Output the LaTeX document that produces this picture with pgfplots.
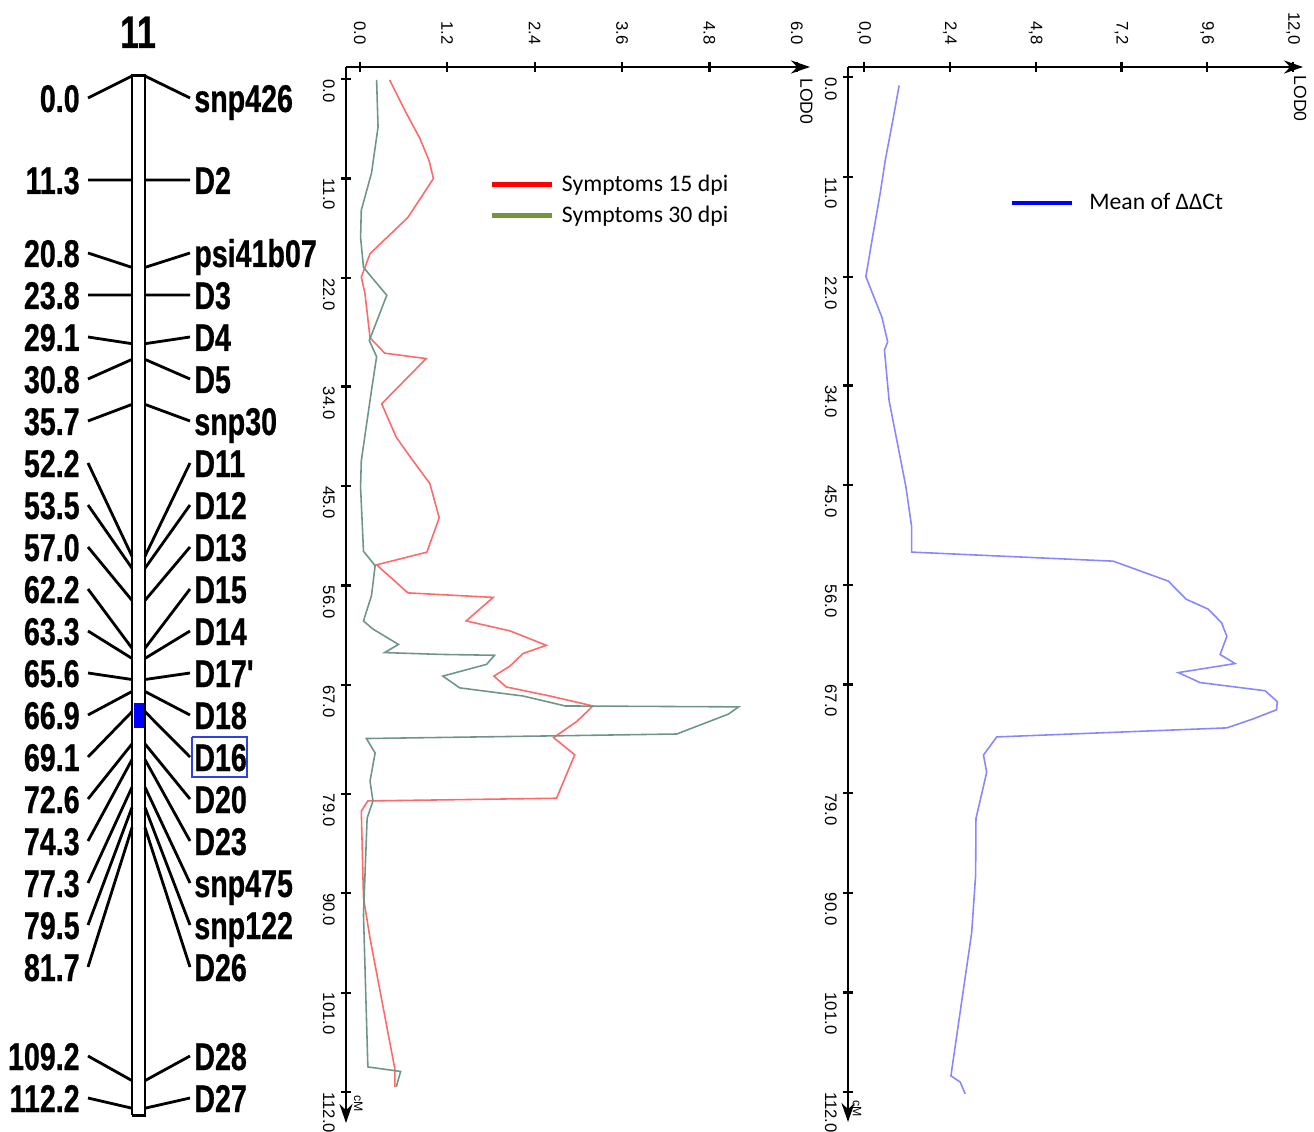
\documentclass[border=0pt]{standalone}
\usepackage{fontspec}
\setmainfont{Liberation Sans}
\newfontfamily\calfont{Carlito}
\newfontfamily\mapfont[FakeStretch=0.74,FakeBold=0.6]{Liberation Sans Bold}
\usepackage{pgfplots}
\pgfplotsset{compat=1.18}
\usetikzlibrary{arrows.meta}

\definecolor{redline}{RGB}{255,105,105}
\definecolor{greenline}{RGB}{110,150,135}
\definecolor{blueline}{RGB}{135,135,255}
\definecolor{legolive}{RGB}{119,147,60}
\definecolor{boxblue}{RGB}{45,65,230}

\pgfplotsset{
  lodaxis/.style={
    scale only axis, anchor=south west, clip=false,
    axis x line*=top, axis y line*=left,
    axis line style={line width=1.5pt},
    x axis line style={-{Stealth[length=0.38cm,width=0.26cm]}},
    y axis line style={{Stealth[length=0.38cm,width=0.26cm]}-},
    tick align=center, major tick length=0.2cm,
    tick style={line width=1.3pt, black},
    ytick={0,-11,-22,-34,-45,-56,-67,-79,-90,-101,-112},
    yticklabels={0.0,11.0,22.0,34.0,45.0,56.0,67.0,79.0,90.0,101.0,112.0},
    xticklabel style={rotate=-90, anchor=east, font=\fontsize{9.5}{11}\selectfont},
    yticklabel style={rotate=-90, anchor=north west, xshift=-0.12cm, font=\fontsize{9.5}{11}\selectfont},
    xticklabel shift=0.22cm,
    legend style={draw=none, fill=none, font=\calfont\fontsize{13.5}{15}\selectfont,
      anchor=north west, row sep=0.1cm},
    legend cell align=left,
    legend image code/.code={\draw[#1] (0cm,0cm) -- (1.2cm,0cm);},
  }
}

\begin{document}
\begin{tikzpicture}
\useasboundingbox (0,0) rectangle (26.28,22.62);

% linkage group 11 (pixel-like canvas)
\begin{axis}[at={(0cm,0cm)}, anchor=south west, scale only axis,
  width=26.28cm, height=22.62cm, xmin=0, xmax=1314, ymin=-1131, ymax=0,
  hide axis, clip=false]
\addplot[draw=none, fill=blue] coordinates {(134,-703) (144,-703) (144,-728) (134,-728)} -- cycle;
\addplot[black, line width=1.7pt] coordinates {(132,-1115) (132,-76) (145,-76) (145,-1115) (132,-1115)};
\addplot[black, line width=1.6pt, unbounded coords=jump] coordinates {
 (88,-98) (132,-76) (nan,nan)
 (88,-180) (132,-180) (nan,nan)
 (88,-253) (132,-267.4) (nan,nan)
 (88,-295) (132,-295) (nan,nan)
 (88,-337) (132,-343.7) (nan,nan)
 (88,-379) (132,-359.4) (nan,nan)
 (88,-421) (132,-404.4) (nan,nan)
 (88,-463) (132,-556.2) (nan,nan)
 (88,-505) (132,-568.2) (nan,nan)
 (88,-547) (132,-600.4) (nan,nan)
 (88,-589) (132,-648.2) (nan,nan)
 (88,-631) (132,-658.4) (nan,nan)
 (88,-673) (132,-679.5) (nan,nan)
 (88,-715) (132,-691.5) (nan,nan)
 (88,-757) (132,-711.7) (nan,nan)
 (88,-799) (132,-743.9) (nan,nan)
 (88,-841) (132,-759.6) (nan,nan)
 (88,-883) (132,-787.2) (nan,nan)
 (88,-925) (132,-807.4) (nan,nan)
 (88,-967) (132,-827.6) (nan,nan)
 (88,-1056) (132,-1080.6) (nan,nan)
 (88,-1098) (132,-1108.2) (nan,nan)
 (145,-76) (190,-98) (nan,nan)
 (145,-180) (190,-180) (nan,nan)
 (145,-267.4) (190,-253) (nan,nan)
 (145,-295) (190,-295) (nan,nan)
 (145,-343.7) (190,-337) (nan,nan)
 (145,-359.4) (190,-379) (nan,nan)
 (145,-404.4) (190,-421) (nan,nan)
 (145,-556.2) (190,-463) (nan,nan)
 (145,-568.2) (190,-505) (nan,nan)
 (145,-600.4) (190,-547) (nan,nan)
 (145,-648.2) (190,-589) (nan,nan)
 (145,-658.4) (190,-631) (nan,nan)
 (145,-679.5) (190,-673) (nan,nan)
 (145,-691.5) (190,-715) (nan,nan)
 (145,-711.7) (190,-757) (nan,nan)
 (145,-743.9) (190,-799) (nan,nan)
 (145,-759.6) (190,-841) (nan,nan)
 (145,-787.2) (190,-883) (nan,nan)
 (145,-807.4) (190,-925) (nan,nan)
 (145,-827.6) (190,-967) (nan,nan)
 (145,-1080.6) (190,-1056) (nan,nan)
 (145,-1108.2) (190,-1098)
};
\addplot[boxblue, line width=1.4pt] coordinates {(192,-737) (247,-737) (247,-777) (192,-777) (192,-737)};

\node[font=\mapfont\fontsize{26}{28}\selectfont, anchor=base, inner sep=0] at (axis cs:138,-48) {11};
\begin{scope}[every node/.style={font=\mapfont\fontsize{22}{24}\selectfont, inner sep=0}]
\node[anchor=base east] at (axis cs:80,-112) {0.0};
\node[anchor=base east] at (axis cs:80,-194) {11.3};
\node[anchor=base east] at (axis cs:80,-267) {20.8};
\node[anchor=base east] at (axis cs:80,-309) {23.8};
\node[anchor=base east] at (axis cs:80,-351) {29.1};
\node[anchor=base east] at (axis cs:80,-393) {30.8};
\node[anchor=base east] at (axis cs:80,-435) {35.7};
\node[anchor=base east] at (axis cs:80,-477) {52.2};
\node[anchor=base east] at (axis cs:80,-519) {53.5};
\node[anchor=base east] at (axis cs:80,-561) {57.0};
\node[anchor=base east] at (axis cs:80,-603) {62.2};
\node[anchor=base east] at (axis cs:80,-645) {63.3};
\node[anchor=base east] at (axis cs:80,-687) {65.6};
\node[anchor=base east] at (axis cs:80,-729) {66.9};
\node[anchor=base east] at (axis cs:80,-771) {69.1};
\node[anchor=base east] at (axis cs:80,-813) {72.6};
\node[anchor=base east] at (axis cs:80,-855) {74.3};
\node[anchor=base east] at (axis cs:80,-897) {77.3};
\node[anchor=base east] at (axis cs:80,-939) {79.5};
\node[anchor=base east] at (axis cs:80,-981) {81.7};
\node[anchor=base east] at (axis cs:80,-1070) {109.2};
\node[anchor=base east] at (axis cs:80,-1112) {112.2};
\node[anchor=base west] at (axis cs:194,-112) {snp426};
\node[anchor=base west] at (axis cs:194,-194) {D2};
\node[anchor=base west] at (axis cs:194,-267) {psi41b07};
\node[anchor=base west] at (axis cs:194,-309) {D3};
\node[anchor=base west] at (axis cs:194,-351) {D4};
\node[anchor=base west] at (axis cs:194,-393) {D5};
\node[anchor=base west] at (axis cs:194,-435) {snp30};
\node[anchor=base west] at (axis cs:194,-477) {D11};
\node[anchor=base west] at (axis cs:194,-519) {D12};
\node[anchor=base west] at (axis cs:194,-561) {D13};
\node[anchor=base west] at (axis cs:194,-603) {D15};
\node[anchor=base west] at (axis cs:194,-645) {D14};
\node[anchor=base west] at (axis cs:194,-687) {D17\symbol{39}};
\node[anchor=base west] at (axis cs:194,-729) {D18};
\node[anchor=base west] at (axis cs:194,-771) {D16};
\node[anchor=base west] at (axis cs:194,-813) {D20};
\node[anchor=base west] at (axis cs:194,-855) {D23};
\node[anchor=base west] at (axis cs:194,-897) {snp475};
\node[anchor=base west] at (axis cs:194,-939) {snp122};
\node[anchor=base west] at (axis cs:194,-981) {D26};
\node[anchor=base west] at (axis cs:194,-1070) {D28};
\node[anchor=base west] at (axis cs:194,-1112) {D27};
\end{scope}
\end{axis}

% symptoms LOD profiles
\begin{axis}[lodaxis, at={(6.92cm,0.16cm)}, width=9.28cm, height=21.12cm,
  xmin=-0.19, xmax=6.18, ymin=-115.4, ymax=1.33,
  xtick={0,1.2,2.4,3.6,4.8,6.0}, xticklabels={0.0,1.2,2.4,3.6,4.8,6.0},
  legend style={at={(0.298,0.905)}, /tikz/every odd column/.append style={column sep=0.08cm}}]
\addplot[redline, line width=0.9pt, forget plot] coordinates {
 (0.41,-0.1) (0.62,-3.5) (0.82,-6.5) (0.95,-9.0) (1.01,-11.0) (0.66,-15.3) (0.14,-19.3) (0.02,-21.9)
 (0.07,-23.7) (0.14,-28.6) (0.34,-30.3) (0.91,-30.9) (0.30,-35.9) (0.50,-39.6) (0.73,-42.2)
 (0.96,-44.7) (1.09,-48.5) (0.92,-52.3) (0.23,-53.7) (0.66,-56.8) (1.83,-57.3) (1.46,-59.9)
 (2.06,-61.0) (2.56,-62.6) (2.24,-63.5) (2.06,-64.9) (1.84,-66.0) (2.01,-67.2) (2.61,-68.2)
 (3.20,-69.3) (2.98,-71.0) (2.66,-72.8) (2.95,-74.7) (2.70,-79.5) (0.11,-79.8) (0.02,-80.9)
 (0.05,-90.5) (0.14,-95.0) (0.48,-109.4) (0.48,-111.4)};
\addplot[greenline, line width=0.9pt, forget plot] coordinates {
 (0.23,-0.1) (0.25,-5.3) (0.16,-10.4) (0.02,-14.5) (0.01,-17.5) (0.05,-20.8) (0.14,-21.7)
 (0.37,-23.9) (0.13,-28.9) (0.23,-30.7) (0.16,-34.4) (0.02,-42.2) (0.01,-45.1) (0.05,-52.2)
 (0.21,-53.8) (0.16,-57.1) (0.05,-59.9) (0.18,-60.8) (0.53,-62.5) (0.34,-63.4) (1.10,-63.6)
 (1.85,-63.7) (1.74,-64.7) (1.14,-66.0) (1.37,-67.3) (2.24,-68.2) (2.82,-69.3) (5.20,-69.4)
 (5.06,-70.2) (4.35,-72.4) (2.70,-72.6) (0.09,-72.9) (0.21,-74.5) (0.14,-77.6) (0.18,-79.8)
 (0.10,-81.7) (0.05,-92.4) (0.11,-109.2) (0.56,-109.7) (0.50,-111.4)};
\addlegendimage{red, line width=2.6pt}
\addlegendentry{Symptoms 15 dpi}
\addlegendimage{legolive, line width=2.6pt}
\addlegendentry{Symptoms 30 dpi}
\node[rotate=-90, anchor=west, inner sep=0, font=\fontsize{10}{11}\selectfont] at (axis cs:6.13,0.1) {LOD0};
\node[rotate=-90, anchor=west, inner sep=0, font=\fontsize{7}{8}\selectfont] at (axis cs:-0.02,-112.3) {cM};
\end{axis}

% mean ddCt LOD profile
\begin{axis}[lodaxis, at={(16.96cm,0.18cm)}, width=9.1cm, height=21.1cm,
  xmin=-0.45, xmax=12.28, ymin=-115.3, ymax=1.14,
  xtick={0,2.4,4.8,7.2,9.6,12.0}, xticklabels={{0,0},{2,4},{4,8},{7,2},{9,6},{12,0}},
  legend style={at={(0.342,0.887)}, /tikz/every odd column/.append style={column sep=0.24cm}}]
\addplot[blueline, line width=0.9pt, forget plot] coordinates {
 (0.98,-0.9) (0.82,-4.4) (0.59,-9.2) (0.45,-12.8) (0.22,-18.0) (0.05,-22.0) (0.26,-24.1)
 (0.50,-26.5) (0.66,-29.2) (0.57,-30.1) (0.70,-35.7) (1.17,-45.2) (1.33,-49.6) (1.33,-52.4)
 (6.97,-53.4) (8.51,-55.6) (9.01,-57.6) (9.63,-58.7) (10.0,-60.2) (10.15,-61.7) (9.96,-63.7)
 (10.38,-64.7) (8.79,-65.7) (9.40,-66.8) (11.22,-67.7) (11.56,-68.9) (11.54,-69.8) (10.89,-70.8)
 (10.15,-71.8) (3.71,-72.8) (3.34,-74.8) (3.43,-76.7) (3.13,-81.8) (3.12,-88.1) (3.01,-94.4)
 (2.55,-106.9) (2.43,-110.2) (2.69,-110.9) (2.83,-112.2)};
\addlegendimage{blue, line width=2.6pt}
\addlegendentry{Mean of ΔΔCt}
\node[rotate=-90, anchor=west, inner sep=0, font=\fontsize{10}{11}\selectfont] at (axis cs:12.2,0.2) {LOD0};
\node[rotate=-90, anchor=west, inner sep=0, font=\fontsize{7}{8}\selectfont] at (axis cs:-0.2,-112.9) {cM};
\end{axis}
\end{tikzpicture}
\end{document}
